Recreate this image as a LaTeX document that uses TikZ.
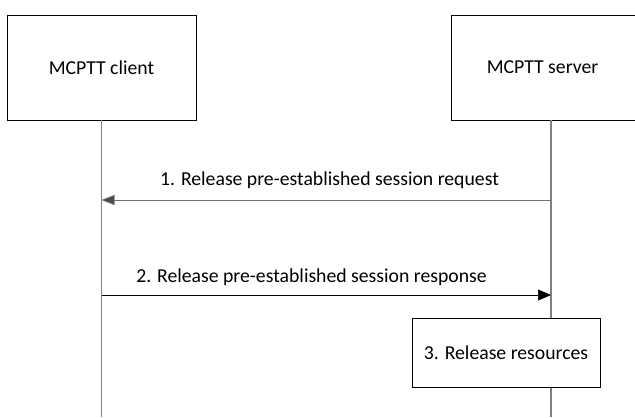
\documentclass[tikz,border=0pt]{standalone}
\usepackage{fontspec}
\setmainfont{Carlito}
\usetikzlibrary{arrows.meta}

\tikzset{
  entity/.style={draw=black,line width=0.6bp,fill=white,inner sep=0pt,font=\fontsize{19.8}{23}\selectfont},
  lifeline/.style={draw=black!50,line width=1.3bp},
  msg/.style={line width=0.6bp,-{Triangle[length=13bp,width=11bp]}},
  msglabel/.style={inner sep=0pt,anchor=base,font=\fontsize{19.8}{23}\selectfont}
}

\begin{document}
\begin{tikzpicture}[x=1bp,y=-1bp]
\useasboundingbox (0,0) rectangle (635,417);
\clip (0,0) rectangle (635,417);
% entities
\node[entity,minimum width=189bp,minimum height=105bp] (client) at (101.5,67.5) {MCPTT client};
\node[entity,minimum width=200bp,minimum height=105bp] (server) at (551.7,67.5) {};
\node[font=\fontsize{19.8}{23}\selectfont] (servertext) at (542.5,67.5) {MCPTT server};
% lifelines
\coordinate (clientend) at (101.5,417);
\coordinate (serverend) at (551,417);
\draw[lifeline] (client.south) -- (clientend);
\draw[lifeline] (server.south -| serverend) -- (serverend);
% messages
\coordinate (m1from) at (551,200);
\coordinate (m1to) at (101.5,200);
\coordinate (m2from) at (101.5,295);
\coordinate (m2to) at (551,295);
\draw[msg,draw=black!55,-{Triangle[length=13bp,width=10bp,fill=black!70]}] (m1from) -- (m1to);
\node[msglabel] (m1label) at (329.5,185) {1. Release pre-established session request};
\draw[msg] (m2from) -- (m2to);
\node[msglabel] (m2label) at (311.5,282) {2. Release pre-established session response};
% local action
\node[entity,minimum width=188bp,minimum height=69bp] (release) at (506,352.5) {3. Release resources};
\end{tikzpicture}
\end{document}
